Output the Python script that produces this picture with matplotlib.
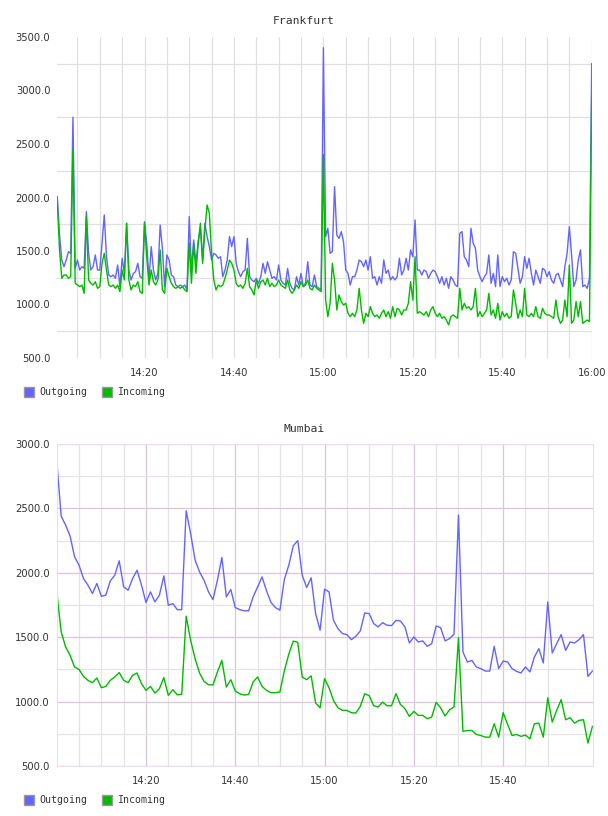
import numpy as np
import matplotlib.pyplot as plt
from matplotlib.patches import Rectangle

# Frankfurt, one sample every 30 s from 14:00:30 to 16:00
frankfurt_out = [
    2008, 1650, 1416, 1354, 1416, 1494, 1478, 2750, 1338, 1416,
    1322, 1354, 1338, 1868, 1478, 1322, 1354, 1463, 1322, 1322,
    1572, 1837, 1447, 1276, 1260, 1276, 1245, 1369, 1167, 1432,
    1291, 1759, 1322, 1229, 1291, 1307, 1385, 1260, 1245, 1774,
    1572, 1229, 1541, 1322, 1229, 1291, 1743, 1525, 1167, 1463,
    1416, 1276, 1260, 1182, 1167, 1182, 1167, 1182, 1136, 1821,
    1322, 1603, 1385, 1587, 1712, 1416, 1759, 1634, 1541, 1416,
    1478, 1463, 1432, 1447, 1260, 1322, 1416, 1634, 1541, 1634,
    1385, 1307, 1260, 1307, 1322, 1618, 1260, 1229, 1213, 1245,
    1198, 1260, 1385, 1291, 1400, 1322, 1245, 1260, 1229, 1369,
    1229, 1198, 1182, 1338, 1198, 1151, 1136, 1260, 1182, 1291,
    1167, 1198, 1400, 1182, 1167, 1276, 1167, 1151, 1136, 3400,
    1634, 1712, 1478, 1494, 2101, 1650, 1618, 1681, 1587, 1322,
    1291, 1182, 1260, 1260, 1322, 1416, 1400, 1354, 1416, 1322,
    1447, 1245, 1260, 1182, 1260, 1198, 1416, 1291, 1322, 1229,
    1260, 1229, 1260, 1432, 1276, 1322, 1432, 1322, 1510, 1447,
    1790, 1322, 1322, 1276, 1322, 1307, 1245, 1291, 1322, 1307,
    1260, 1198, 1260, 1182, 1245, 1151, 1260, 1229, 1182, 1167,
    1665, 1681, 1447, 1416, 1354, 1712, 1572, 1525, 1322, 1260,
    1213, 1260, 1291, 1463, 1198, 1291, 1167, 1463, 1167, 1260,
    1213, 1245, 1182, 1229, 1494, 1478, 1338, 1198, 1260, 1447,
    1338, 1432, 1291, 1182, 1322, 1260, 1198, 1338, 1322, 1260,
    1307, 1229, 1198, 1276, 1291, 1229, 1167, 1354, 1478, 1727,
    1463, 1167, 1229, 1416, 1510, 1167, 1182, 1151, 1245, 3250,
]
frankfurt_in = [
    1961, 1510, 1245, 1276, 1276, 1245, 1260, 2450, 1198, 1182,
    1167, 1182, 1104, 1821, 1229, 1198, 1182, 1213, 1151, 1167,
    1385, 1478, 1322, 1182, 1167, 1182, 1151, 1182, 1120, 1322,
    1229, 1759, 1229, 1136, 1182, 1167, 1213, 1120, 1104, 1759,
    1447, 1182, 1322, 1213, 1182, 1229, 1510, 1136, 1104, 1338,
    1260, 1198, 1167, 1151, 1167, 1151, 1167, 1136, 1120, 1572,
    1198, 1572, 1291, 1572, 1759, 1385, 1696, 1930, 1852, 1478,
    1229, 1136, 1182, 1167, 1182, 1245, 1322, 1416, 1385, 1322,
    1198, 1167, 1182, 1151, 1198, 1338, 1167, 1136, 1089, 1229,
    1151, 1213, 1229, 1182, 1245, 1167, 1198, 1167, 1182, 1229,
    1182, 1167, 1151, 1229, 1136, 1104, 1136, 1182, 1151, 1213,
    1167, 1182, 1229, 1151, 1136, 1182, 1151, 1136, 1120, 2400,
    1042, 886, 1011, 1385, 1229, 949, 1089, 1027, 995, 1011,
    918, 886, 918, 886, 949, 1151, 949, 824, 918, 886,
    980, 918, 886, 902, 871, 918, 949, 886, 933, 871,
    980, 886, 964, 949, 902, 949, 949, 1011, 1213, 1042,
    1447, 918, 933, 918, 902, 933, 886, 949, 980, 918,
    886, 918, 871, 886, 855, 809, 886, 902, 886, 871,
    1151, 949, 1011, 964, 980, 949, 980, 1151, 886, 933,
    886, 918, 949, 1104, 902, 949, 871, 1011, 855, 933,
    886, 918, 871, 886, 1136, 1011, 871, 949, 886, 1151,
    902, 886, 918, 886, 980, 886, 871, 964, 918, 902,
    902, 886, 871, 1042, 886, 824, 855, 1042, 886, 1369,
    824, 855, 1027, 886, 1027, 824, 840, 855, 840, 2940,
]

# Mumbai, one sample per minute from 14:00 to 16:00
mumbai_out = [
    2876, 2440, 2370, 2285, 2124, 2059, 1955, 1904, 1839, 1917,
    1818, 1826, 1937, 1981, 2093, 1891, 1865, 1955, 2020, 1904,
    1769, 1852, 1774, 1826, 1976, 1748, 1761, 1714, 1714, 2482,
    2305, 2098, 2007, 1942, 1852, 1792, 1942, 2119, 1813, 1870,
    1730, 1714, 1705, 1705, 1813, 1890, 1968, 1860, 1770, 1730,
    1710, 1950, 2060, 2210, 2250, 1981, 1886, 1961, 1683, 1554,
    1873, 1852, 1631, 1567, 1528, 1520, 1481, 1507, 1548, 1688,
    1683, 1606, 1580, 1613, 1593, 1590, 1631, 1626, 1580, 1455,
    1502, 1463, 1471, 1429, 1450, 1587, 1574, 1471, 1489, 1523,
    2448, 1385, 1307, 1320, 1269, 1256, 1237, 1237, 1429, 1256,
    1315, 1307, 1256, 1235, 1222, 1269, 1230, 1346, 1411, 1300,
    1774, 1377, 1450, 1520, 1398, 1463, 1455, 1481, 1520, 1196, 1237,
]
mumbai_in = [
    1857, 1541, 1424, 1359, 1269, 1250, 1196, 1165, 1147, 1183,
    1108, 1118, 1165, 1191, 1225, 1165, 1147, 1204, 1222, 1139,
    1087, 1118, 1066, 1100, 1186, 1048, 1092, 1053, 1056, 1663,
    1476, 1333, 1222, 1157, 1131, 1129, 1230, 1320, 1113, 1170,
    1082, 1061, 1051, 1056, 1152, 1191, 1118, 1087, 1069, 1069,
    1075, 1240, 1370, 1470, 1460, 1190, 1170, 1200, 989, 952,
    1178, 1108, 1009, 952, 932, 932, 914, 911, 963, 1061,
    1046, 968, 958, 996, 968, 968, 1061, 978, 945, 885,
    924, 893, 893, 867, 880, 994, 952, 888, 937, 958,
    1497, 768, 776, 776, 745, 737, 724, 724, 828, 724,
    914, 823, 737, 745, 730, 740, 711, 828, 833, 724,
    1030, 841, 932, 1015, 859, 875, 833, 854, 859, 678, 807,
]

frankfurt_minutes = np.arange(len(frankfurt_out)) * 0.5 + 0.5
mumbai_minutes = np.arange(len(mumbai_out))

frankfurt_ticks = [20, 40, 60, 80, 100, 120]
frankfurt_labels = ['14:20', '14:40', '15:00', '15:20', '15:40', '16:00']
mumbai_ticks = [20, 40, 60, 80, 100]
mumbai_labels = ['14:20', '14:40', '15:00', '15:20', '15:40']
grid_minutes = [m for m in range(5, 121, 5) if m % 20]

BLUE = '#6464ff'
GREEN = '#00bb00'
TXT = '#333333'
W, H = 608, 816

fig = plt.figure(figsize=(W / 100, H / 100), dpi=100)

ax1 = fig.add_axes([57.3 / W, 458 / H, 534.4 / W, 321 / H])
ax2 = fig.add_axes([56.7 / W, 50 / H, 536.6 / W, 322 / H])

ax1.plot(frankfurt_minutes, frankfurt_out, color=BLUE, lw=1.0)
ax1.plot(frankfurt_minutes, frankfurt_in, color=GREEN, lw=1.0)
ax2.plot(mumbai_minutes, mumbai_out, color=BLUE, lw=1.0)
ax2.plot(mumbai_minutes, mumbai_in, color=GREEN, lw=1.0)

# Frankfurt: grey grid only, horizontal lines sit between the labels
ax1.set_xlim(0.5, 120)
ax1.set_ylim(500, 3500)
ax1.set_xticks(frankfurt_ticks)
ax1.set_xticklabels(frankfurt_labels)
ax1.set_xticks(grid_minutes, minor=True)
ax1.set_yticks(range(500, 3501, 500))
ax1.set_yticklabels(['%.1f' % v for v in range(500, 3501, 500)])
ax1.set_yticks(range(750, 3500, 500), minor=True)
ax1.grid(True, which='minor', color='#e0e0e0', lw=0.9)
ax1.grid(True, which='major', axis='x', color='#e0e0e0', lw=0.9)
for s in ax1.spines.values():
    s.set_visible(False)

# Mumbai: purple major grid, grey minor grid, light border
ax2.set_xlim(0, 120.2)
ax2.set_ylim(500, 3000)
ax2.set_xticks(mumbai_ticks)
ax2.set_xticklabels(mumbai_labels)
ax2.set_xticks(grid_minutes[:-1], minor=True)
ax2.set_yticks(range(500, 3001, 500))
ax2.set_yticklabels(['%.1f' % v for v in range(500, 3001, 500)])
ax2.set_yticks(range(750, 3000, 500), minor=True)
ax2.grid(True, which='major', color='#dcc4dc', lw=0.9)
ax2.grid(True, which='minor', color='#e4e4e4', lw=0.9)
for s in ax2.spines.values():
    s.set_color('#eedcee')

for ax in (ax1, ax2):
    ax.set_axisbelow(True)
    ax.tick_params(which='both', length=0)
    ax.tick_params(axis='x', pad=7, labelsize=7.2, labelcolor=TXT)
    ax.tick_params(axis='y', pad=5, labelsize=7.2, labelcolor=TXT)

fig.text(0.5, 1 - 20.7 / H, 'Frankfurt', ha='center', va='center',
         family='DejaVu Sans Mono', fontsize=8.2, color=TXT)
fig.text(0.5, 1 - 429 / H, 'Mumbai', ha='center', va='center',
         family='DejaVu Sans Mono', fontsize=8.2, color=TXT)


def draw_legend(y_px):
    for x0, color, label in ((24, BLUE, 'Outgoing'), (102, GREEN, 'Incoming')):
        fig.patches.append(Rectangle((x0 / W, 1 - (y_px + 5) / H), 10 / W, 10 / H,
                                     transform=fig.transFigure, facecolor=color,
                                     edgecolor='#999999', lw=1))
        fig.text((x0 + 15) / W, 1 - y_px / H, label, va='center',
                 family='DejaVu Sans Mono', fontsize=7.1, color=TXT)


draw_legend(392)
draw_legend(800)

plt.savefig('out.png', dpi=100)
